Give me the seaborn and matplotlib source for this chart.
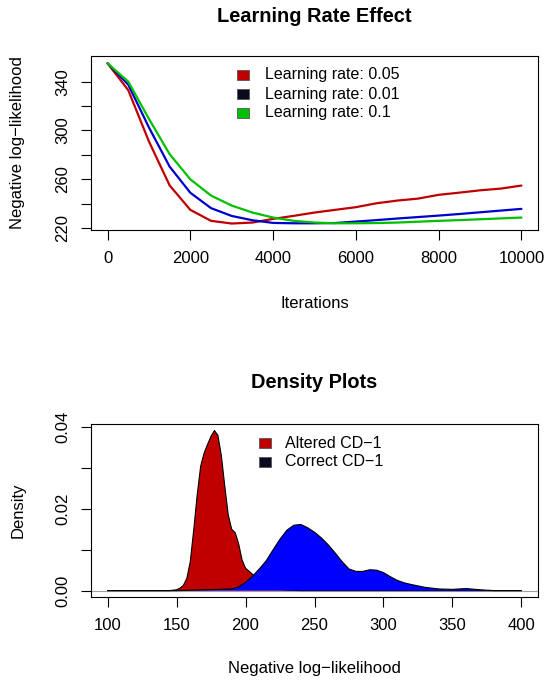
import numpy as np
import pandas as pd
import matplotlib
matplotlib.use("Agg")
import matplotlib.pyplot as plt
from matplotlib.patches import Rectangle
import seaborn as sns

# ---------------- data ----------------
iterations = [0, 500, 1000, 1500, 2000, 2500, 3000, 3500, 4000, 4500, 5000,
              5500, 6000, 6500, 7000, 7500, 8000, 8500, 9000, 9500, 10000]
nll_lr_005 = [355, 333, 291, 255, 235, 226, 223.8, 224.6, 227.6, 230.1, 232.8,
              235, 237.2, 240.4, 242.6, 244.2, 247.3, 249.1, 251, 252.4, 254.9]
nll_lr_001 = [355, 337.5, 302.5, 270.4, 249, 236.4, 230, 226.5, 224.3, 224, 224,
              224.2, 225.4, 226.6, 227.9, 229.1, 230.3, 231.6, 233, 234.4, 235.8]
nll_lr_01 = [355, 340, 309.5, 280.6, 260, 246.7, 238.5, 232.8, 228.7, 226, 224.6,
             224, 224, 224.2, 224.6, 225.3, 226, 226.6, 227.3, 228, 228.7]
lr_labels = ["Learning rate: 0.05", "Learning rate: 0.01", "Learning rate: 0.1"]

altered_x = [100, 145, 150, 152.5, 155, 157.5, 160, 162.5, 165, 167.5, 170, 172.5,
             175, 177.5, 180, 182.5, 185, 187.5, 190, 192.5, 195, 197.5, 200, 205,
             210, 215, 220, 230, 240, 400]
altered_d = [0, 0, 0.0002, 0.0006, 0.0013, 0.0030, 0.0072, 0.0150, 0.0235, 0.0305,
             0.0337, 0.0358, 0.0378, 0.0392, 0.0380, 0.0330, 0.0255, 0.0185, 0.0150,
             0.0142, 0.0115, 0.0075, 0.0055, 0.0040, 0.0025, 0.0012, 0.0005, 0.0001,
             0, 0]
correct_x = [100, 150, 160, 170, 180, 190, 195, 200, 205, 210, 215, 220, 225, 230,
             235, 240, 245, 250, 255, 260, 265, 270, 275, 280, 285, 290, 295, 300,
             305, 310, 315, 320, 330, 340, 350, 360, 370, 380, 400]
correct_d = [0, 0, 0.0001, 0.0002, 0.0003, 0.0004, 0.0009, 0.0020, 0.0035, 0.0053,
             0.0073, 0.0100, 0.0126, 0.0148, 0.0160, 0.0162, 0.0154, 0.0143, 0.0129,
             0.0112, 0.0092, 0.0071, 0.0053, 0.0047, 0.0047, 0.0051, 0.0050, 0.0044,
             0.0034, 0.0025, 0.0019, 0.0015, 0.0008, 0.0004, 0.0003, 0.0005, 0.0002,
             0, 0]
density_labels = ["Altered CD\u22121", "Correct CD\u22121"]

# ---------------- style ----------------
sns.set_theme(style="white")
plt.rcParams["font.family"] = ["Liberation Sans", "DejaVu Sans"]
plt.rcParams["axes.edgecolor"] = "black"
plt.rcParams["axes.linewidth"] = 0.8
plt.rcParams["text.color"] = "black"
plt.rcParams["axes.labelcolor"] = "black"
plt.rcParams["xtick.color"] = "black"
plt.rcParams["ytick.color"] = "black"

RED = "#C00000"
BLUE_LINE = "#0000CC"
GREEN = "#00C000"
BLUE_FILL = "#0000FF"
DARK = "#0A0A1E"

W, H = 546, 684
fig = plt.figure(figsize=(W / 100, H / 100), dpi=100)

def fx(px):
    return px / W

def fy(py):
    return 1 - py / H

ax1 = fig.add_axes([fx(91), fy(230), fx(538) - fx(91), fy(56) - fy(230)])
ax2 = fig.add_axes([fx(91), fy(597), fx(538) - fx(91), fy(424) - fy(597)])

# ---------------- top panel ----------------
df = pd.DataFrame({
    "Iterations": iterations * 3,
    "nll": nll_lr_005 + nll_lr_001 + nll_lr_01,
    "lr": [lr_labels[0]] * len(iterations) + [lr_labels[1]] * len(iterations)
          + [lr_labels[2]] * len(iterations),
})
sns.lineplot(data=df, x="Iterations", y="nll", hue="lr",
             palette={lr_labels[0]: RED, lr_labels[1]: BLUE_LINE, lr_labels[2]: GREEN},
             linewidth=1.6, ax=ax1, legend=False)
ax1.set_xlim(-400, 10400)
ax1.set_ylim(218.5, 361)
ax1.set_xticks(range(0, 10001, 2000))
ax1.set_yticks(range(220, 341, 20))
ax1.set_yticklabels([str(v) if v in (220, 260, 300, 340) else "" for v in range(220, 341, 20)])
ax1.set_title("Learning Rate Effect", fontsize=14.4, fontweight="bold",
              y=(230 - 16) / 174, va="center", pad=0)
ax1.set_xlabel("Iterations", fontsize=12)
ax1.set_ylabel("Negative log\u2212likelihood", fontsize=12)
ax1.xaxis.set_label_coords((314.5 - 91) / 447, (230 - 303) / 174)
ax1.yaxis.set_label_coords((18 - 91) / 447, 0.5)
ax1.xaxis.label.set_va("center")
ax1.yaxis.label.set_va("center")

lr_colors = [RED, DARK, GREEN]
for i, (lab, col) in enumerate(zip(lr_labels, lr_colors)):
    yc = 75 + 19 * i
    fig.patches.append(Rectangle((fx(237), fy(yc + 5)), fx(249) - fx(237), fy(yc - 5) - fy(yc + 5),
                                 transform=fig.transFigure, facecolor=col,
                                 edgecolor="#555555", linewidth=0.6))
    fig.text(fx(265), fy(yc), lab, fontsize=11.5, va="center", ha="left")

# ---------------- bottom panel ----------------
ax2.axhline(0, color="#A0A0A0", linewidth=0.8, zorder=0)
ax2.fill_between(altered_x, altered_d, 0, facecolor=RED, edgecolor="none", zorder=1)
sns.lineplot(x=altered_x, y=altered_d, color="black", linewidth=0.8, ax=ax2, zorder=2,
             estimator=None, sort=False)
ax2.fill_between(correct_x, correct_d, 0, facecolor=BLUE_FILL, edgecolor="none", zorder=3)
sns.lineplot(x=correct_x, y=correct_d, color="black", linewidth=0.8, ax=ax2, zorder=4,
             estimator=None, sort=False)
ax2.set_xlim(88, 412)
ax2.set_ylim(-0.00157, 0.0408)
ax2.set_xticks(range(100, 401, 50))
ax2.set_yticks([0, 0.01, 0.02, 0.03, 0.04])
ax2.set_yticklabels(["0.00", "", "0.02", "", "0.04"])
ax2.set_title("Density Plots", fontsize=14.4, fontweight="bold",
              y=(597 - 382) / 173, va="center", pad=0)
ax2.set_xlabel("Negative log\u2212likelihood", fontsize=12)
ax2.set_ylabel("Density", fontsize=12)
ax2.xaxis.set_label_coords((314.5 - 91) / 447, (597 - 668) / 173)
ax2.yaxis.set_label_coords((18 - 91) / 447, 0.5)
ax2.xaxis.label.set_va("center")
ax2.yaxis.label.set_va("center")

d_colors = [RED, DARK]
for i, (lab, col) in enumerate(zip(density_labels, d_colors)):
    yc = 443 + 19 * i
    fig.patches.append(Rectangle((fx(259), fy(yc + 5)), fx(271) - fx(259), fy(yc - 5) - fy(yc + 5),
                                 transform=fig.transFigure, facecolor=col,
                                 edgecolor="#555555", linewidth=0.6))
    fig.text(fx(285), fy(yc), lab, fontsize=11.5, va="center", ha="left")

for ax in (ax1, ax2):
    ax.tick_params(axis="both", direction="out", length=7, width=0.8, labelsize=12,
                   bottom=True, left=True, pad=8)
    for lab in ax.get_yticklabels():
        lab.set_rotation(90)
        lab.set_va("center")
    for s in ax.spines.values():
        s.set_visible(True)
        s.set_color("black")

fig.savefig("out.png", dpi=100)
